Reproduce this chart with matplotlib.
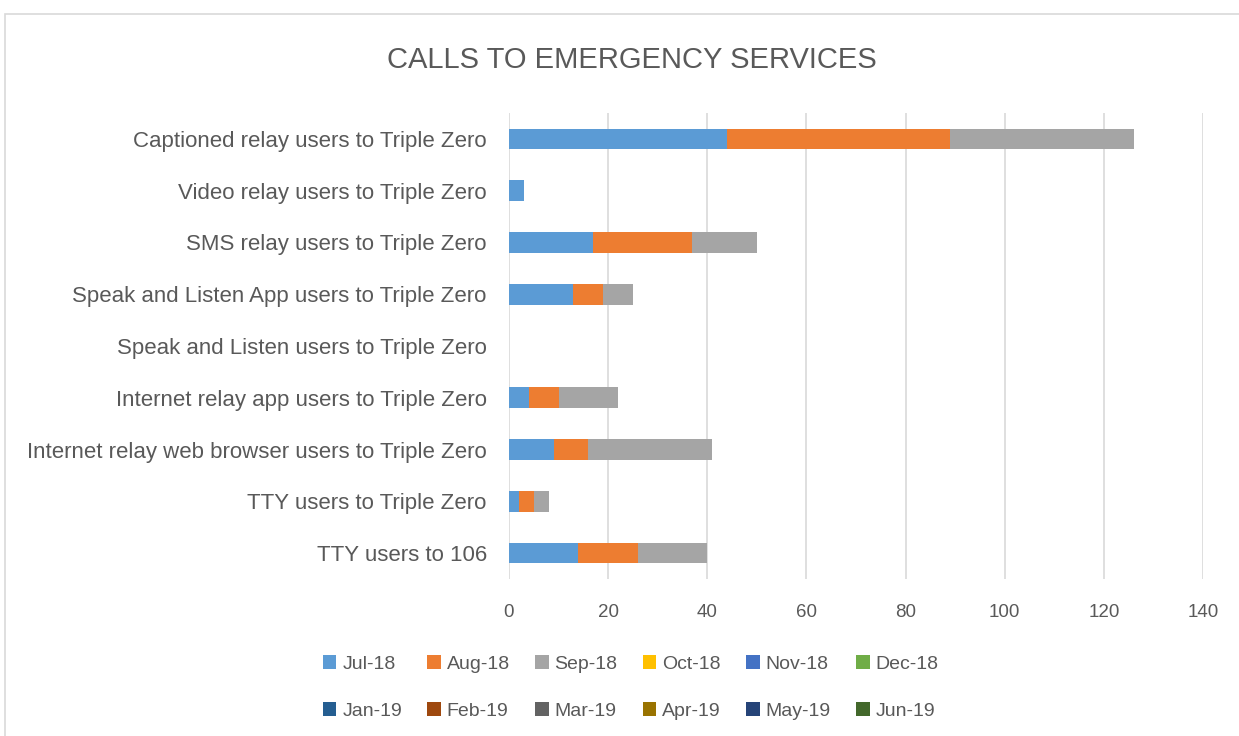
import numpy as np
import matplotlib.pyplot as plt
from matplotlib.patches import Rectangle

categories = ['Captioned relay users to Triple Zero',
              'Video relay users to Triple Zero',
              'SMS relay users to Triple Zero',
              'Speak and Listen App users to Triple Zero',
              'Speak and Listen users to Triple Zero',
              'Internet relay app users to Triple Zero',
              'Internet relay web browser users to Triple Zero',
              'TTY users to Triple Zero',
              'TTY users to 106']
months = ['Jul-18', 'Aug-18', 'Sep-18', 'Oct-18', 'Nov-18', 'Dec-18',
          'Jan-19', 'Feb-19', 'Mar-19', 'Apr-19', 'May-19', 'Jun-19']
jul18 = [44, 3, 17, 13, 0, 4, 9, 2, 14]
aug18 = [45, 0, 20, 6, 0, 6, 7, 3, 12]
sep18 = [37, 0, 13, 6, 0, 12, 25, 3, 14]
empty = [0] * 9
series = [jul18, aug18, sep18] + [empty] * 9
colors = ['#5B9BD5', '#ED7D31', '#A5A5A5', '#FFC000', '#4472C4', '#70AD47',
          '#255E91', '#9E480E', '#636363', '#997300', '#264478', '#43682B']

txt = '#595959'
plt.rcParams['font.family'] = ['Liberation Sans', 'DejaVu Sans']

fig = plt.figure(figsize=(12.39, 7.36), dpi=100)
ax = fig.add_axes([0.4108, 0.2133, 0.5602, 0.6332])

y = np.arange(len(categories))
left = np.zeros(len(categories))
handles = []
for vals, c, m in zip(series, colors, months):
    b = ax.barh(y, vals, left=left, height=0.4, color=c, label=m, linewidth=0)
    handles.append(b)
    left += np.array(vals)

ax.set_ylim(-0.5, len(categories) - 0.5)
ax.invert_yaxis()
ax.set_xlim(0, 140)
ax.set_xticks(range(0, 141, 20))
ax.set_yticks(y)
ax.set_yticklabels(categories, fontsize=16, color=txt)
ax.tick_params(axis='x', labelsize=13.5, colors=txt, length=0, pad=18)
ax.tick_params(axis='y', length=0, pad=16)
ax.grid(axis='x', color='#D9D9D9', lw=1.2)
ax.set_axisbelow(True)
for s in ax.spines.values():
    s.set_visible(False)

fig.text(0.51, 0.918, 'CALLS TO EMERGENCY SERVICES', ha='center', va='center',
         fontsize=21, color=txt)

# legend fills by column, so interleave to read row by row
order = [i for pair in zip(range(6), range(6, 12)) for i in pair]
fig.legend(handles=[handles[i] for i in order], loc='center',
           bbox_to_anchor=(0.509, 0.066), ncol=6,
           frameon=False, fontsize=14, handlelength=0.7, handleheight=0.7,
           handletextpad=0.3, columnspacing=1.3, labelspacing=1.5,
           labelcolor=txt)

fig.patches.append(Rectangle((0.004, -0.1), 1.1, 1.081, transform=fig.transFigure,
                             fill=False, edgecolor='#D9D9D9', lw=1.2))

fig.savefig('out.png', dpi=100)
